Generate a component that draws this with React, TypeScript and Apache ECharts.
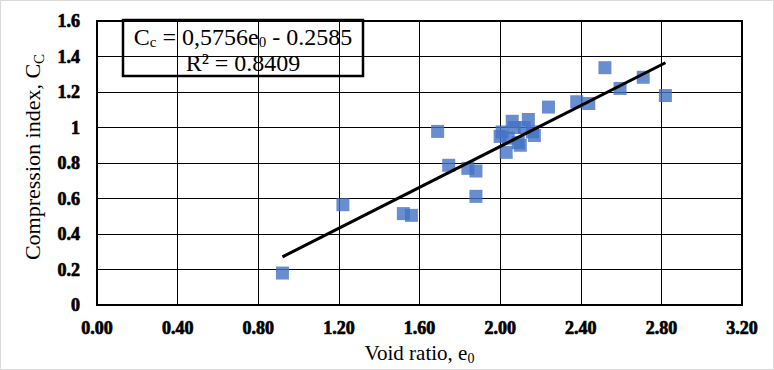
import React, { useEffect, useRef } from "react";
import * as echarts from "echarts";

const voidRatio = [
  0.92, 1.22, 1.52, 1.56, 1.69, 1.745, 1.84, 1.88, 1.88, 2.0, 2.01, 2.03, 2.04, 2.06,
  2.07, 2.09, 2.1, 2.12, 2.14, 2.16, 2.17, 2.24, 2.38, 2.44, 2.52, 2.595, 2.71, 2.82,
];
const compressionIndex = [
  0.18, 0.565, 0.515, 0.505, 0.978, 0.787, 0.77, 0.755, 0.612, 0.95, 0.975, 0.86, 0.94, 1.035,
  1.0, 0.915, 0.9, 1.0, 1.045, 0.975, 0.955, 1.115, 1.145, 1.135, 1.337, 1.22, 1.283, 1.18,
];
const slope = 0.5756;
const intercept = -0.2585;
const xTickLabels = ["0.00", "0.40", "0.80", "1.20", "1.60", "2.00", "2.40", "2.80", "3.20"];
const yTickLabels = ["0", "0.2", "0.4", "0.6", "0.8", "1", "1.2", "1.4", "1.6"];

const SERIF = "Liberation Serif";

export default function App() {
  const ref = useRef<HTMLDivElement>(null);
  useEffect(() => {
    if (!ref.current) return;
    const chart = echarts.init(ref.current, null, { renderer: "svg" });
    const points = voidRatio.map((x, i) => [x, compressionIndex[i]]);
    const xMin = Math.min(...voidRatio);
    const xMax = Math.max(...voidRatio);
    const trend = [
      [xMin, slope * xMin + intercept],
      [xMax, slope * xMax + intercept],
    ];
    const tickText = {
      color: "#000",
      fontFamily: SERIF,
      fontWeight: "bold",
      fontSize: 18,
      textBorderColor: "#000",
      textBorderWidth: 0.7,
    };
    chart.setOption({
      animation: false,
      backgroundColor: "#fff",
      grid: {
        left: 97,
        top: 21,
        right: 32,
        bottom: 63,
        show: true,
        borderColor: "#000",
        borderWidth: 2,
        backgroundColor: "transparent",
      },
      xAxis: {
        type: "value",
        min: 0,
        max: 3.2,
        interval: 0.4,
        axisLine: { show: true, lineStyle: { color: "#000", width: 2 } },
        axisTick: { show: false },
        splitLine: { show: true, lineStyle: { color: "#000", width: 1 } },
        axisLabel: {
          ...tickText,
          margin: 14,
          formatter: (v: number) => xTickLabels[Math.round(v / 0.4)] ?? "",
        },
        name: "{a|Void ratio, e}{s|0}",
        nameLocation: "middle",
        nameGap: 36,
        nameTextStyle: {
          rich: {
            a: { fontFamily: SERIF, fontSize: 21, color: "#000", lineHeight: 24 },
            s: { fontFamily: SERIF, fontSize: 14, color: "#000", lineHeight: 14, verticalAlign: "bottom" },
          },
        },
      },
      yAxis: {
        type: "value",
        min: 0,
        max: 1.6,
        interval: 0.2,
        axisLine: { show: true, lineStyle: { color: "#000", width: 2 } },
        axisTick: { show: false },
        splitLine: { show: true, lineStyle: { color: "#000", width: 1 } },
        axisLabel: {
          ...tickText,
          margin: 17,
          formatter: (v: number) => yTickLabels[Math.round(v / 0.2)] ?? "",
        },
        name: "{a|Compression index, C}{s|C}",
        nameLocation: "middle",
        nameGap: 48,
        nameTextStyle: {
          padding: [0, 0, 0, 12],
          rich: {
            a: { fontFamily: SERIF, fontSize: 22, color: "#000", lineHeight: 27 },
            s: { fontFamily: SERIF, fontSize: 15, color: "#000", lineHeight: 16, verticalAlign: "bottom" },
          },
        },
      },
      series: [
        {
          type: "scatter",
          data: points,
          symbol: "rect",
          symbolSize: 13,
          itemStyle: { color: "#4472C4" },
          z: 3,
        },
        {
          type: "line",
          data: trend,
          symbol: "none",
          lineStyle: { color: "#000", width: 3 },
          z: 4,
        },
      ],
      graphic: [
        {
          type: "rect",
          z: 0,
          silent: true,
          shape: { x: 0.5, y: 0.5, width: 773, height: 369 },
          style: { fill: "none", stroke: "#d9d9d9", lineWidth: 1 },
        },
        {
          type: "group",
          z: 100,
          children: [
            {
              type: "rect",
              shape: { x: 123, y: 20, width: 240, height: 56 },
              style: { fill: "#fff", stroke: "#000", lineWidth: 2.5 },
            },
            {
              type: "text",
              x: 243,
              y: 37,
              style: {
                text: "{a|C}{s|c}{a| = 0,5756e}{s|0}{a| - 0.2585}",
                align: "center",
                verticalAlign: "middle",
                rich: {
                  a: { fontFamily: SERIF, fontSize: 24, fill: "#000", lineHeight: 24 },
                  s: { fontFamily: SERIF, fontSize: 15, fill: "#000", lineHeight: 12, verticalAlign: "bottom" },
                },
              },
            },
            {
              type: "text",
              x: 243,
              y: 63,
              style: {
                text: "R² = 0.8409",
                align: "center",
                verticalAlign: "middle",
                fontFamily: SERIF,
                fontSize: 24,
                lineHeight: 24,
                fill: "#000",
              },
            },
          ],
        },
      ],
    });
    return () => chart.dispose();
  }, []);
  return (
    <div
      ref={ref}
      style={{ position: "fixed", left: 0, top: 0, width: 774, height: 370 }}
    />
  );
}
